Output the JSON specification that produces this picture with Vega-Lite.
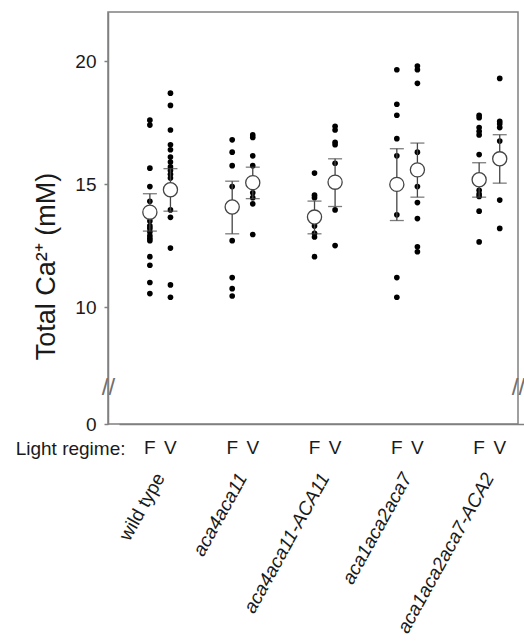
{
  "$schema": "https://vega.github.io/schema/vega-lite/v6.json",
  "autosize": {"type": "none"},
  "padding": {"left": 108, "top": 12, "right": 6, "bottom": 217},
  "width": 410,
  "height": 412,
  "config": {
    "font": "Liberation Sans",
    "view": {"stroke": "#808080", "strokeWidth": 1.5},
    "axis": {"domainColor": "#808080", "domainWidth": 1.5, "tickColor": "#808080", "tickWidth": 1.5, "labelColor": "#1a1a1a", "titleColor": "#1a1a1a", "labelFontSize": 19, "grid": false, "titleFontWeight": "normal"}
  },
  "datasets": {
    "points": [
      {"genotype": "wild type", "regime": "F", "value": 17.6},
      {"genotype": "wild type", "regime": "F", "value": 17.4},
      {"genotype": "wild type", "regime": "F", "value": 15.65},
      {"genotype": "wild type", "regime": "F", "value": 14.9},
      {"genotype": "wild type", "regime": "F", "value": 14.3},
      {"genotype": "wild type", "regime": "F", "value": 13.5},
      {"genotype": "wild type", "regime": "F", "value": 13.3},
      {"genotype": "wild type", "regime": "F", "value": 13.2},
      {"genotype": "wild type", "regime": "F", "value": 13.05},
      {"genotype": "wild type", "regime": "F", "value": 12.9},
      {"genotype": "wild type", "regime": "F", "value": 12.8},
      {"genotype": "wild type", "regime": "F", "value": 12.7},
      {"genotype": "wild type", "regime": "F", "value": 12.05},
      {"genotype": "wild type", "regime": "F", "value": 11.7},
      {"genotype": "wild type", "regime": "F", "value": 11.0},
      {"genotype": "wild type", "regime": "F", "value": 10.55},
      {"genotype": "wild type", "regime": "V", "value": 18.7},
      {"genotype": "wild type", "regime": "V", "value": 18.2},
      {"genotype": "wild type", "regime": "V", "value": 17.2},
      {"genotype": "wild type", "regime": "V", "value": 16.6},
      {"genotype": "wild type", "regime": "V", "value": 16.4},
      {"genotype": "wild type", "regime": "V", "value": 16.1},
      {"genotype": "wild type", "regime": "V", "value": 15.9},
      {"genotype": "wild type", "regime": "V", "value": 15.7},
      {"genotype": "wild type", "regime": "V", "value": 15.55},
      {"genotype": "wild type", "regime": "V", "value": 15.4},
      {"genotype": "wild type", "regime": "V", "value": 15.25},
      {"genotype": "wild type", "regime": "V", "value": 13.95},
      {"genotype": "wild type", "regime": "V", "value": 13.65},
      {"genotype": "wild type", "regime": "V", "value": 12.4},
      {"genotype": "wild type", "regime": "V", "value": 10.9},
      {"genotype": "wild type", "regime": "V", "value": 10.4},
      {"genotype": "aca4aca11", "regime": "F", "value": 16.8},
      {"genotype": "aca4aca11", "regime": "F", "value": 16.3},
      {"genotype": "aca4aca11", "regime": "F", "value": 15.75},
      {"genotype": "aca4aca11", "regime": "F", "value": 14.9},
      {"genotype": "aca4aca11", "regime": "F", "value": 12.7},
      {"genotype": "aca4aca11", "regime": "F", "value": 11.2},
      {"genotype": "aca4aca11", "regime": "F", "value": 10.75},
      {"genotype": "aca4aca11", "regime": "F", "value": 10.45},
      {"genotype": "aca4aca11", "regime": "V", "value": 17.0},
      {"genotype": "aca4aca11", "regime": "V", "value": 16.9},
      {"genotype": "aca4aca11", "regime": "V", "value": 16.15},
      {"genotype": "aca4aca11", "regime": "V", "value": 15.75},
      {"genotype": "aca4aca11", "regime": "V", "value": 14.65},
      {"genotype": "aca4aca11", "regime": "V", "value": 14.45},
      {"genotype": "aca4aca11", "regime": "V", "value": 14.2},
      {"genotype": "aca4aca11", "regime": "V", "value": 12.95},
      {"genotype": "aca4aca11-ACA11", "regime": "F", "value": 15.45},
      {"genotype": "aca4aca11-ACA11", "regime": "F", "value": 14.55},
      {"genotype": "aca4aca11-ACA11", "regime": "F", "value": 14.45},
      {"genotype": "aca4aca11-ACA11", "regime": "F", "value": 13.3},
      {"genotype": "aca4aca11-ACA11", "regime": "F", "value": 13.0},
      {"genotype": "aca4aca11-ACA11", "regime": "F", "value": 12.85},
      {"genotype": "aca4aca11-ACA11", "regime": "F", "value": 12.05},
      {"genotype": "aca4aca11-ACA11", "regime": "V", "value": 17.35},
      {"genotype": "aca4aca11-ACA11", "regime": "V", "value": 17.2},
      {"genotype": "aca4aca11-ACA11", "regime": "V", "value": 16.7},
      {"genotype": "aca4aca11-ACA11", "regime": "V", "value": 16.6},
      {"genotype": "aca4aca11-ACA11", "regime": "V", "value": 15.85},
      {"genotype": "aca4aca11-ACA11", "regime": "V", "value": 13.95},
      {"genotype": "aca4aca11-ACA11", "regime": "V", "value": 12.5},
      {"genotype": "aca1aca2aca7", "regime": "F", "value": 19.65},
      {"genotype": "aca1aca2aca7", "regime": "F", "value": 18.25},
      {"genotype": "aca1aca2aca7", "regime": "F", "value": 17.8},
      {"genotype": "aca1aca2aca7", "regime": "F", "value": 16.85},
      {"genotype": "aca1aca2aca7", "regime": "F", "value": 16.15},
      {"genotype": "aca1aca2aca7", "regime": "F", "value": 13.75},
      {"genotype": "aca1aca2aca7", "regime": "F", "value": 11.2},
      {"genotype": "aca1aca2aca7", "regime": "F", "value": 10.4},
      {"genotype": "aca1aca2aca7", "regime": "V", "value": 19.8},
      {"genotype": "aca1aca2aca7", "regime": "V", "value": 19.65},
      {"genotype": "aca1aca2aca7", "regime": "V", "value": 19.1},
      {"genotype": "aca1aca2aca7", "regime": "V", "value": 16.3},
      {"genotype": "aca1aca2aca7", "regime": "V", "value": 14.9},
      {"genotype": "aca1aca2aca7", "regime": "V", "value": 14.25},
      {"genotype": "aca1aca2aca7", "regime": "V", "value": 13.6},
      {"genotype": "aca1aca2aca7", "regime": "V", "value": 12.45},
      {"genotype": "aca1aca2aca7", "regime": "V", "value": 12.25},
      {"genotype": "aca1aca2aca7-ACA2", "regime": "F", "value": 17.8},
      {"genotype": "aca1aca2aca7-ACA2", "regime": "F", "value": 17.7},
      {"genotype": "aca1aca2aca7-ACA2", "regime": "F", "value": 17.3},
      {"genotype": "aca1aca2aca7-ACA2", "regime": "F", "value": 17.15},
      {"genotype": "aca1aca2aca7-ACA2", "regime": "F", "value": 17.0},
      {"genotype": "aca1aca2aca7-ACA2", "regime": "F", "value": 16.2},
      {"genotype": "aca1aca2aca7-ACA2", "regime": "F", "value": 14.75},
      {"genotype": "aca1aca2aca7-ACA2", "regime": "F", "value": 14.6},
      {"genotype": "aca1aca2aca7-ACA2", "regime": "F", "value": 14.5},
      {"genotype": "aca1aca2aca7-ACA2", "regime": "F", "value": 13.9},
      {"genotype": "aca1aca2aca7-ACA2", "regime": "F", "value": 12.65},
      {"genotype": "aca1aca2aca7-ACA2", "regime": "V", "value": 19.3},
      {"genotype": "aca1aca2aca7-ACA2", "regime": "V", "value": 17.55},
      {"genotype": "aca1aca2aca7-ACA2", "regime": "V", "value": 17.45},
      {"genotype": "aca1aca2aca7-ACA2", "regime": "V", "value": 17.3},
      {"genotype": "aca1aca2aca7-ACA2", "regime": "V", "value": 16.75},
      {"genotype": "aca1aca2aca7-ACA2", "regime": "V", "value": 14.35},
      {"genotype": "aca1aca2aca7-ACA2", "regime": "V", "value": 13.2}
    ],
    "summary": [
      {"genotype": "wild type", "regime": "F", "mean": 13.86, "lo": 13.09, "hi": 14.61},
      {"genotype": "wild type", "regime": "V", "mean": 14.77, "lo": 13.9, "hi": 15.63},
      {"genotype": "aca4aca11", "regime": "F", "mean": 14.07, "lo": 12.98, "hi": 15.12},
      {"genotype": "aca4aca11", "regime": "V", "mean": 15.06, "lo": 14.41, "hi": 15.69},
      {"genotype": "aca4aca11-ACA11", "regime": "F", "mean": 13.66, "lo": 12.98, "hi": 14.31},
      {"genotype": "aca4aca11-ACA11", "regime": "V", "mean": 15.08, "lo": 14.09, "hi": 16.03},
      {"genotype": "aca1aca2aca7", "regime": "F", "mean": 14.99, "lo": 13.52, "hi": 16.44},
      {"genotype": "aca1aca2aca7", "regime": "V", "mean": 15.58, "lo": 14.47, "hi": 16.67},
      {"genotype": "aca1aca2aca7-ACA2", "regime": "F", "mean": 15.18, "lo": 14.47, "hi": 15.87},
      {"genotype": "aca1aca2aca7-ACA2", "regime": "V", "mean": 16.03, "lo": 15.04, "hi": 17.01}
    ]
  },
  "resolve": {"axis": {"y": "independent"}},
  "layer": [
    {
      "data": {"name": "points"},
      "mark": {"type": "circle", "size": 32, "color": "#000000", "opacity": 1},
      "encoding": {
        "x": {
          "field": "genotype", "type": "nominal", "sort": null,
          "scale": {"domain": ["wild type", "aca4aca11", "aca4aca11-ACA11", "aca1aca2aca7", "aca1aca2aca7-ACA2"], "range": [11, 422.6], "paddingInner": 0, "paddingOuter": 0},
          "axis": {
            "orient": "bottom", "title": "Light regime:", "titleX": 17, "titleY": 24, "titleAlign": "right", "titleBaseline": "middle", "titleAngle": 0, "titleFontSize": 19,
            "labelAngle": -61, "labelAlign": "right", "labelBaseline": "middle", "labelPadding": 50, "labelFontSize": 19,
            "labelFontStyle": {"condition": {"test": "datum.value == 'wild type'", "value": "normal"}, "value": "italic"},
            "ticks": false, "labelLimit": 400, "labelOverlap": false
          }
        },
        "xOffset": {"field": "regime", "type": "nominal", "scale": {"domain": ["F", "V"], "paddingInner": 0, "paddingOuter": 1}},
        "y": {
          "field": "value", "type": "quantitative",
          "scale": {"type": "linear", "domain": [0, 6.75, 22], "range": [412, 375, 0], "nice": false, "zero": false},
          "axis": {
            "orient": "left", "values": [0, 6.75, 10, 15, 20],
            "title": "Total Ca²⁺ (mM)", "titleFontSize": 27, "titleX": -62, "titleY": 254, "titleAngle": -90, "titleAlign": "center", "titleBaseline": "middle",
            "labelExpr": "datum.value == 6.75 ? '//' : datum.label",
            "tickSize": 4,
            "labelPadding": {"condition": {"test": "datum.value == 6.75", "value": -4}, "value": 8},
            "labelAlign": {"condition": {"test": "datum.value == 6.75", "value": "center"}, "value": "right"},
            "labelColor": {"condition": {"test": "datum.value == 6.75", "value": "#707070"}, "value": "#1a1a1a"},
            "labelFontSize": {"condition": {"test": "datum.value == 6.75", "value": 24}, "value": 19},
            "tickOpacity": {"condition": {"test": "datum.value == 6.75", "value": 0}, "value": 1}
          }
        }
      }
    },
    {
      "data": {"name": "summary"},
      "mark": {"type": "rule", "color": "#444444", "strokeWidth": 1.3},
      "encoding": {
        "x": {"field": "genotype", "type": "nominal", "sort": null},
        "xOffset": {"field": "regime", "type": "nominal"},
        "y": {"field": "lo", "type": "quantitative", "axis": null},
        "y2": {"field": "hi"}
      }
    },
    {
      "data": {"name": "summary"},
      "mark": {"type": "tick", "color": "#444444", "size": 14, "thickness": 1.3},
      "encoding": {
        "x": {"field": "genotype", "type": "nominal", "sort": null},
        "xOffset": {"field": "regime", "type": "nominal"},
        "y": {"field": "lo", "type": "quantitative", "axis": null}
      }
    },
    {
      "data": {"name": "summary"},
      "mark": {"type": "tick", "color": "#444444", "size": 14, "thickness": 1.3},
      "encoding": {
        "x": {"field": "genotype", "type": "nominal", "sort": null},
        "xOffset": {"field": "regime", "type": "nominal"},
        "y": {"field": "hi", "type": "quantitative", "axis": null}
      }
    },
    {
      "data": {"name": "summary"},
      "mark": {"type": "circle", "size": 200, "fill": "#ffffff", "stroke": "#444444", "strokeWidth": 1.3, "opacity": 1, "fillOpacity": 1},
      "encoding": {
        "x": {"field": "genotype", "type": "nominal", "sort": null},
        "xOffset": {"field": "regime", "type": "nominal"},
        "y": {
          "field": "mean", "type": "quantitative",
          "axis": {"orient": "right", "values": [6.75], "title": null, "domain": false, "ticks": false, "labelExpr": "'//'", "labelAlign": "center", "labelPadding": 0, "labelColor": "#707070", "labelFontSize": 24}
        }
      }
    },
    {
      "data": {"name": "summary"},
      "mark": {"type": "text", "fontSize": 19, "color": "#1a1a1a", "baseline": "middle", "align": "center", "dy": 24},
      "encoding": {
        "x": {"field": "genotype", "type": "nominal", "sort": null},
        "xOffset": {"field": "regime", "type": "nominal"},
        "y": {"datum": 0, "type": "quantitative", "axis": null},
        "text": {"field": "regime"}
      }
    }
  ]
}
